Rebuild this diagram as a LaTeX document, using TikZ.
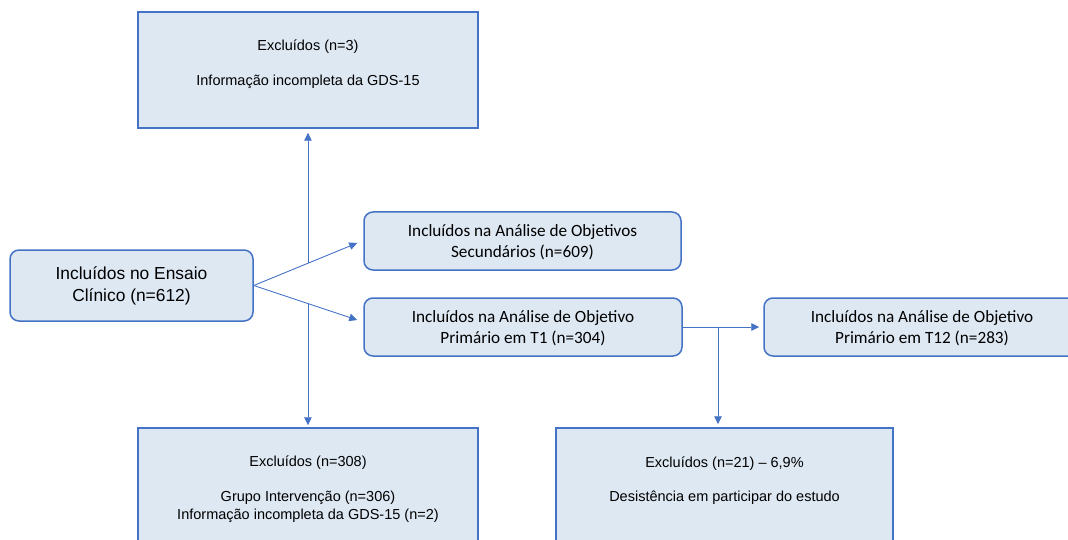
\documentclass[tikz,border=0pt]{standalone}
\usepackage{fontspec}
\setmainfont{Liberation Sans}
\newfontfamily\calib{Carlito}
\usetikzlibrary{arrows.meta,calc}
\definecolor{boxfill}{HTML}{DEE8F3}
\definecolor{boxline}{HTML}{4472C4}
\begin{document}
\begin{tikzpicture}[x=1pt,y=-1pt,
  boxsq/.style={draw=boxline,fill=boxfill,line width=1.5pt,inner sep=0pt,rectangle},
  boxrd/.style={boxsq,rounded corners=9pt},
  txt/.style={inner sep=0pt,align=center,font=\fontsize{14.5}{17.5}\selectfont},
  ctxt/.style={inner sep=0pt,align=center,font=\calib\fontsize{17.2}{20.5}\selectfont},
  link/.style={draw=boxline,line width=0.9pt},
  tip/.style={-{Triangle[length=8pt,width=7.5pt]}}]
\useasboundingbox (0,0) rectangle (1068,540);

% boxes
\node[boxsq,minimum width=340,minimum height=116] (top) at (308,70) {};
\node[boxrd,minimum width=243,minimum height=71] (main) at (131.5,285.5) {};
\node[boxrd,minimum width=317,minimum height=58] (sec) at (522.5,241) {};
\node[boxrd,minimum width=318,minimum height=58] (t1) at (523,327) {};
\node[boxrd,minimum width=316,minimum height=58] (t12) at (922,327) {};
\node[boxsq,minimum width=340,minimum height=130] (bl) at (308,493) {};
\node[boxsq,minimum width=337,minimum height=130] (br) at (724.5,493) {};

% texts
\node[txt] (topa) at (308,47) {Excluídos (n=3)};
\node[txt] (topb) at (308,82) {Informação incompleta da GDS-15};
\node[inner sep=0pt,align=center,font=\fontsize{17.4}{21.5}\selectfont] (maint) at (131.5,286) {Incluídos no Ensaio\\Clínico (n=612)};
\node[ctxt] (sect) at (522.5,242) {Incluídos na Análise de Objetivos\\Secundários (n=609)};
\node[ctxt] (t1t) at (523,328) {Incluídos na Análise de Objetivo\\Primário em T1 (n=304)};
\node[ctxt] (t12t) at (922,328) {Incluídos na Análise de Objetivo\\Primário em T12 (n=283)};
\node[txt] (bla) at (308,463) {Excluídos (n=308)};
\node[txt] (blb) at (308,507) {Grupo Intervenção (n=306)\\Informação incompleta da GDS-15 (n=2)};
\node[txt] (bra) at (724.5,464) {Excluídos (n=21) – 6,9\%};
\node[txt] (brb) at (724.5,498) {Desistência em participar do estudo};

% connectors
\coordinate (secin) at ($(sec.west)+(-6,2)$);
\coordinate (t1in) at ($(t1.west)+(-6,-7)$);
\draw[link,tip] (main.east) -- (secin);
\draw[link,tip] (main.east) -- (t1in);
% exclusion branches start where they meet the diagonals
\coordinate (upstart) at ($(main.east)!{(308-253)/(358-253)}!(secin)$);
\coordinate (dnstart) at ($(main.east)!{(308-253)/(358-253)}!(t1in)$);
\draw[link,tip,shorten >=4pt] (upstart) -- (upstart|-top.south);
\draw[link,tip,shorten >=2pt] (dnstart) -- (dnstart|-bl.north);
\coordinate (split) at (718,327);
\draw[link,tip] (t1.east) -- ($(t12.west)+(-4,0)$);
\draw[link,tip] (split) -- ($(br.north-|split)+(0,-3)$);
\end{tikzpicture}
\end{document}
